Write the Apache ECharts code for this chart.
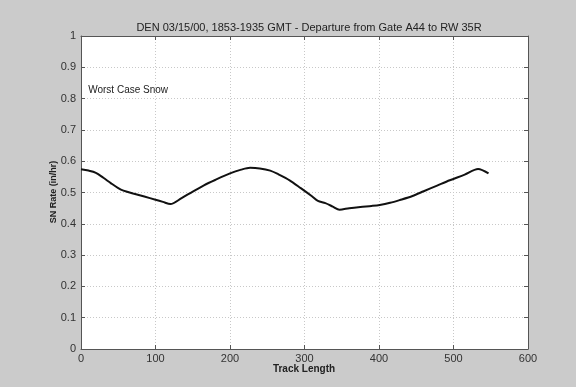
<!DOCTYPE html>
<html><head><meta charset="utf-8">
<script src="https://cdn.jsdelivr.net/npm/echarts@6/dist/echarts.min.js"></script>
<style>html,body{margin:0;padding:0;background:#cbcbcb}#c{width:576px;height:387px}</style>
</head><body><div id="c"></div>
<script>
const titleText = 'DEN 03/15/00, 1853-1935 GMT - Departure from Gate A44 to RW 35R';
const xName = 'Track Length';
const yName = 'SN Rate (in/hr)';
const annotation = 'Worst Case Snow';
const trackLength = [0,10,20,30,40,50,57,70,85,100,110,120,135,150,165,180,200,215,227,240,254,265,280,295,310,318,328,338,347,360,375,390,401,415,428,445,460,478,495,515,533,547];
const snRate = [0.574,0.570,0.563,0.547,0.530,0.514,0.506,0.497,0.487,0.477,0.470,0.463,0.482,0.503,0.523,0.540,0.561,0.573,0.579,0.577,0.570,0.558,0.539,0.514,0.488,0.473,0.466,0.455,0.445,0.450,0.454,0.457,0.460,0.467,0.476,0.489,0.504,0.522,0.539,0.557,0.575,0.561];

const font = 'Liberation Sans, Arial, sans-serif';
const axisCol = '#555';
const chart = echarts.init(document.getElementById('c'));
const baseX = {type:'value',min:0,max:600,interval:100,
  axisLine:{show:true,onZero:false,lineStyle:{color:axisCol,width:1}},
  axisTick:{show:true,inside:true,length:4,lineStyle:{color:axisCol}}};
const baseY = {type:'value',min:0,max:1,interval:0.1,
  axisLine:{show:true,onZero:false,lineStyle:{color:axisCol,width:1}},
  axisTick:{show:true,inside:true,length:4,lineStyle:{color:axisCol}}};
chart.setOption({
  backgroundColor:'#cbcbcb',
  animation:false,
  title:{text:titleText,left:304,textAlign:'center',top:17,
    textStyle:{fontFamily:font,fontSize:11,fontWeight:'normal',color:'#222'}},
  grid:{left:81,top:36,right:48,bottom:38,show:true,backgroundColor:'#fff',borderWidth:0},
  graphic:[
    {type:'text',x:304,y:369,style:{text:xName,fontFamily:font,fontSize:10,fontWeight:'bold',fill:'#222',align:'center',verticalAlign:'middle'}},
    {type:'text',x:54,y:192,rotation:Math.PI/2,style:{text:yName,fontFamily:font,fontSize:9,fontWeight:'bold',fill:'#222',align:'center',verticalAlign:'middle'}}
  ],
  xAxis:[
    Object.assign({},baseX,{position:'bottom',
      axisLabel:{fontFamily:font,fontSize:11,color:'#333',margin:4},
      splitLine:{show:true,lineStyle:{color:'#c8c8c8',type:[1,2],width:1}}}),
    Object.assign({},baseX,{position:'top',axisLabel:{show:false},splitLine:{show:false}})
  ],
  yAxis:[
    Object.assign({},baseY,{position:'left',
      axisLabel:{fontFamily:font,fontSize:11,color:'#333',margin:5},
      splitLine:{show:true,lineStyle:{color:'#c8c8c8',type:[1,2],width:1}}}),
    Object.assign({},baseY,{position:'right',axisLabel:{show:false},splitLine:{show:false}})
  ],
  series:[{type:'line',xAxisIndex:0,yAxisIndex:0,data:trackLength.map((x,i)=>[x,snRate[i]]),
    smooth:0.3,showSymbol:false,lineStyle:{color:'#111',width:2},
    markPoint:{symbol:'rect',symbolSize:1,itemStyle:{color:'rgba(0,0,0,0)'},
      label:{show:true,position:'right',distance:0,formatter:annotation,fontFamily:font,fontSize:10,color:'#222'},
      data:[{coord:[9,0.827]}]}
  }]
});
</script></body></html>
